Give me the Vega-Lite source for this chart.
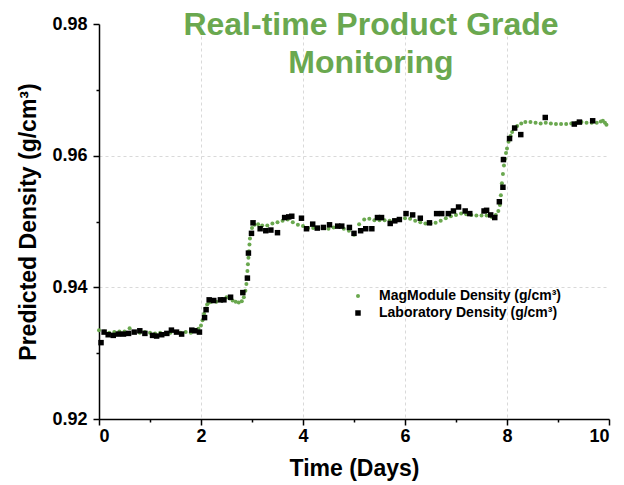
{
  "$schema": "https://vega.github.io/schema/vega-lite/v6.json",
  "width": 510,
  "height": 395,
  "autosize": "none",
  "padding": {"left": 99, "top": 24, "right": 15, "bottom": 66},
  "title": {
    "text": ["Real-time Product Grade", "Monitoring"],
    "font": "Liberation Sans",
    "fontSize": 32,
    "fontWeight": "bold",
    "color": "#6aa84f",
    "anchor": "middle",
    "frame": "group",
    "lineHeight": 38,
    "dx": 17,
    "dy": 68,
    "offset": 3
  },
  "data": {
    "values": [
      {"day": 0.0, "density": 0.9335, "series": "MagModule Density (g/cm³)"},
      {"day": 0.1, "density": 0.9333, "series": "MagModule Density (g/cm³)"},
      {"day": 0.2, "density": 0.9331, "series": "MagModule Density (g/cm³)"},
      {"day": 0.3, "density": 0.9332, "series": "MagModule Density (g/cm³)"},
      {"day": 0.4, "density": 0.9333, "series": "MagModule Density (g/cm³)"},
      {"day": 0.5, "density": 0.9333, "series": "MagModule Density (g/cm³)"},
      {"day": 0.6, "density": 0.9338, "series": "MagModule Density (g/cm³)"},
      {"day": 0.7, "density": 0.9332, "series": "MagModule Density (g/cm³)"},
      {"day": 0.8, "density": 0.9331, "series": "MagModule Density (g/cm³)"},
      {"day": 0.9, "density": 0.9332, "series": "MagModule Density (g/cm³)"},
      {"day": 1.0, "density": 0.9331, "series": "MagModule Density (g/cm³)"},
      {"day": 1.1, "density": 0.9330, "series": "MagModule Density (g/cm³)"},
      {"day": 1.2, "density": 0.9331, "series": "MagModule Density (g/cm³)"},
      {"day": 1.3, "density": 0.9329, "series": "MagModule Density (g/cm³)"},
      {"day": 1.4, "density": 0.9331, "series": "MagModule Density (g/cm³)"},
      {"day": 1.5, "density": 0.9332, "series": "MagModule Density (g/cm³)"},
      {"day": 1.6, "density": 0.9331, "series": "MagModule Density (g/cm³)"},
      {"day": 1.7, "density": 0.9332, "series": "MagModule Density (g/cm³)"},
      {"day": 1.8, "density": 0.9331, "series": "MagModule Density (g/cm³)"},
      {"day": 1.9, "density": 0.9334, "series": "MagModule Density (g/cm³)"},
      {"day": 1.95, "density": 0.9337, "series": "MagModule Density (g/cm³)"},
      {"day": 2.0, "density": 0.9342, "series": "MagModule Density (g/cm³)"},
      {"day": 2.03, "density": 0.9350, "series": "MagModule Density (g/cm³)"},
      {"day": 2.06, "density": 0.9360, "series": "MagModule Density (g/cm³)"},
      {"day": 2.09, "density": 0.9368, "series": "MagModule Density (g/cm³)"},
      {"day": 2.12, "density": 0.9374, "series": "MagModule Density (g/cm³)"},
      {"day": 2.16, "density": 0.9377, "series": "MagModule Density (g/cm³)"},
      {"day": 2.2, "density": 0.9378, "series": "MagModule Density (g/cm³)"},
      {"day": 2.3, "density": 0.9378, "series": "MagModule Density (g/cm³)"},
      {"day": 2.4, "density": 0.9380, "series": "MagModule Density (g/cm³)"},
      {"day": 2.5, "density": 0.9385, "series": "MagModule Density (g/cm³)"},
      {"day": 2.56, "density": 0.9383, "series": "MagModule Density (g/cm³)"},
      {"day": 2.62, "density": 0.9380, "series": "MagModule Density (g/cm³)"},
      {"day": 2.68, "density": 0.9378, "series": "MagModule Density (g/cm³)"},
      {"day": 2.74, "density": 0.9377, "series": "MagModule Density (g/cm³)"},
      {"day": 2.8, "density": 0.9379, "series": "MagModule Density (g/cm³)"},
      {"day": 2.84, "density": 0.9385, "series": "MagModule Density (g/cm³)"},
      {"day": 2.87, "density": 0.9395, "series": "MagModule Density (g/cm³)"},
      {"day": 2.89, "density": 0.9405, "series": "MagModule Density (g/cm³)"},
      {"day": 2.9, "density": 0.9415, "series": "MagModule Density (g/cm³)"},
      {"day": 2.91, "density": 0.9425, "series": "MagModule Density (g/cm³)"},
      {"day": 2.92, "density": 0.9435, "series": "MagModule Density (g/cm³)"},
      {"day": 2.93, "density": 0.9445, "series": "MagModule Density (g/cm³)"},
      {"day": 2.94, "density": 0.9455, "series": "MagModule Density (g/cm³)"},
      {"day": 2.95, "density": 0.9465, "series": "MagModule Density (g/cm³)"},
      {"day": 2.96, "density": 0.9474, "series": "MagModule Density (g/cm³)"},
      {"day": 2.98, "density": 0.9482, "series": "MagModule Density (g/cm³)"},
      {"day": 3.0, "density": 0.9490, "series": "MagModule Density (g/cm³)"},
      {"day": 3.05, "density": 0.9495, "series": "MagModule Density (g/cm³)"},
      {"day": 3.12, "density": 0.9496, "series": "MagModule Density (g/cm³)"},
      {"day": 3.2, "density": 0.9494, "series": "MagModule Density (g/cm³)"},
      {"day": 3.3, "density": 0.9494, "series": "MagModule Density (g/cm³)"},
      {"day": 3.4, "density": 0.9497, "series": "MagModule Density (g/cm³)"},
      {"day": 3.5, "density": 0.9499, "series": "MagModule Density (g/cm³)"},
      {"day": 3.6, "density": 0.9501, "series": "MagModule Density (g/cm³)"},
      {"day": 3.7, "density": 0.9503, "series": "MagModule Density (g/cm³)"},
      {"day": 3.8, "density": 0.9499, "series": "MagModule Density (g/cm³)"},
      {"day": 3.9, "density": 0.9495, "series": "MagModule Density (g/cm³)"},
      {"day": 4.0, "density": 0.9493, "series": "MagModule Density (g/cm³)"},
      {"day": 4.1, "density": 0.9490, "series": "MagModule Density (g/cm³)"},
      {"day": 4.2, "density": 0.9490, "series": "MagModule Density (g/cm³)"},
      {"day": 4.3, "density": 0.9490, "series": "MagModule Density (g/cm³)"},
      {"day": 4.4, "density": 0.9490, "series": "MagModule Density (g/cm³)"},
      {"day": 4.5, "density": 0.9489, "series": "MagModule Density (g/cm³)"},
      {"day": 4.6, "density": 0.9491, "series": "MagModule Density (g/cm³)"},
      {"day": 4.7, "density": 0.9492, "series": "MagModule Density (g/cm³)"},
      {"day": 4.8, "density": 0.9489, "series": "MagModule Density (g/cm³)"},
      {"day": 4.9, "density": 0.9486, "series": "MagModule Density (g/cm³)"},
      {"day": 5.0, "density": 0.9480, "series": "MagModule Density (g/cm³)"},
      {"day": 5.1, "density": 0.9496, "series": "MagModule Density (g/cm³)"},
      {"day": 5.2, "density": 0.9503, "series": "MagModule Density (g/cm³)"},
      {"day": 5.3, "density": 0.9504, "series": "MagModule Density (g/cm³)"},
      {"day": 5.4, "density": 0.9502, "series": "MagModule Density (g/cm³)"},
      {"day": 5.5, "density": 0.9502, "series": "MagModule Density (g/cm³)"},
      {"day": 5.6, "density": 0.9502, "series": "MagModule Density (g/cm³)"},
      {"day": 5.7, "density": 0.9501, "series": "MagModule Density (g/cm³)"},
      {"day": 5.8, "density": 0.9502, "series": "MagModule Density (g/cm³)"},
      {"day": 5.9, "density": 0.9503, "series": "MagModule Density (g/cm³)"},
      {"day": 6.0, "density": 0.9505, "series": "MagModule Density (g/cm³)"},
      {"day": 6.1, "density": 0.9504, "series": "MagModule Density (g/cm³)"},
      {"day": 6.2, "density": 0.9501, "series": "MagModule Density (g/cm³)"},
      {"day": 6.3, "density": 0.9499, "series": "MagModule Density (g/cm³)"},
      {"day": 6.4, "density": 0.9497, "series": "MagModule Density (g/cm³)"},
      {"day": 6.5, "density": 0.9497, "series": "MagModule Density (g/cm³)"},
      {"day": 6.6, "density": 0.9498, "series": "MagModule Density (g/cm³)"},
      {"day": 6.7, "density": 0.9501, "series": "MagModule Density (g/cm³)"},
      {"day": 6.8, "density": 0.9505, "series": "MagModule Density (g/cm³)"},
      {"day": 6.9, "density": 0.9508, "series": "MagModule Density (g/cm³)"},
      {"day": 7.0, "density": 0.9510, "series": "MagModule Density (g/cm³)"},
      {"day": 7.1, "density": 0.9512, "series": "MagModule Density (g/cm³)"},
      {"day": 7.2, "density": 0.9511, "series": "MagModule Density (g/cm³)"},
      {"day": 7.3, "density": 0.9510, "series": "MagModule Density (g/cm³)"},
      {"day": 7.4, "density": 0.9509, "series": "MagModule Density (g/cm³)"},
      {"day": 7.5, "density": 0.9509, "series": "MagModule Density (g/cm³)"},
      {"day": 7.6, "density": 0.9509, "series": "MagModule Density (g/cm³)"},
      {"day": 7.7, "density": 0.9507, "series": "MagModule Density (g/cm³)"},
      {"day": 7.78, "density": 0.9510, "series": "MagModule Density (g/cm³)"},
      {"day": 7.83, "density": 0.9516, "series": "MagModule Density (g/cm³)"},
      {"day": 7.86, "density": 0.9525, "series": "MagModule Density (g/cm³)"},
      {"day": 7.88, "density": 0.9540, "series": "MagModule Density (g/cm³)"},
      {"day": 7.9, "density": 0.9558, "series": "MagModule Density (g/cm³)"},
      {"day": 7.92, "density": 0.9572, "series": "MagModule Density (g/cm³)"},
      {"day": 7.94, "density": 0.9585, "series": "MagModule Density (g/cm³)"},
      {"day": 7.96, "density": 0.9595, "series": "MagModule Density (g/cm³)"},
      {"day": 7.98, "density": 0.9604, "series": "MagModule Density (g/cm³)"},
      {"day": 8.0, "density": 0.9611, "series": "MagModule Density (g/cm³)"},
      {"day": 8.03, "density": 0.9621, "series": "MagModule Density (g/cm³)"},
      {"day": 8.07, "density": 0.9630, "series": "MagModule Density (g/cm³)"},
      {"day": 8.1, "density": 0.9636, "series": "MagModule Density (g/cm³)"},
      {"day": 8.15, "density": 0.9641, "series": "MagModule Density (g/cm³)"},
      {"day": 8.2, "density": 0.9645, "series": "MagModule Density (g/cm³)"},
      {"day": 8.28, "density": 0.9649, "series": "MagModule Density (g/cm³)"},
      {"day": 8.36, "density": 0.9651, "series": "MagModule Density (g/cm³)"},
      {"day": 8.46, "density": 0.9651, "series": "MagModule Density (g/cm³)"},
      {"day": 8.56, "density": 0.9650, "series": "MagModule Density (g/cm³)"},
      {"day": 8.66, "density": 0.9649, "series": "MagModule Density (g/cm³)"},
      {"day": 8.76, "density": 0.9650, "series": "MagModule Density (g/cm³)"},
      {"day": 8.86, "density": 0.9649, "series": "MagModule Density (g/cm³)"},
      {"day": 8.96, "density": 0.9648, "series": "MagModule Density (g/cm³)"},
      {"day": 9.06, "density": 0.9648, "series": "MagModule Density (g/cm³)"},
      {"day": 9.16, "density": 0.9648, "series": "MagModule Density (g/cm³)"},
      {"day": 9.26, "density": 0.9649, "series": "MagModule Density (g/cm³)"},
      {"day": 9.36, "density": 0.9650, "series": "MagModule Density (g/cm³)"},
      {"day": 9.46, "density": 0.9651, "series": "MagModule Density (g/cm³)"},
      {"day": 9.56, "density": 0.9650, "series": "MagModule Density (g/cm³)"},
      {"day": 9.66, "density": 0.9650, "series": "MagModule Density (g/cm³)"},
      {"day": 9.76, "density": 0.9650, "series": "MagModule Density (g/cm³)"},
      {"day": 9.84, "density": 0.9652, "series": "MagModule Density (g/cm³)"},
      {"day": 9.88, "density": 0.9653, "series": "MagModule Density (g/cm³)"},
      {"day": 9.92, "density": 0.9650, "series": "MagModule Density (g/cm³)"},
      {"day": 9.95, "density": 0.9647, "series": "MagModule Density (g/cm³)"},
      {"day": 0.04, "density": 0.9316, "series": "Laboratory Density (g/cm³)"},
      {"day": 0.1, "density": 0.9332, "series": "Laboratory Density (g/cm³)"},
      {"day": 0.18, "density": 0.9328, "series": "Laboratory Density (g/cm³)"},
      {"day": 0.28, "density": 0.9327, "series": "Laboratory Density (g/cm³)"},
      {"day": 0.38, "density": 0.9329, "series": "Laboratory Density (g/cm³)"},
      {"day": 0.48, "density": 0.9329, "series": "Laboratory Density (g/cm³)"},
      {"day": 0.58, "density": 0.9330, "series": "Laboratory Density (g/cm³)"},
      {"day": 0.69, "density": 0.9332, "series": "Laboratory Density (g/cm³)"},
      {"day": 0.8, "density": 0.9334, "series": "Laboratory Density (g/cm³)"},
      {"day": 0.9, "density": 0.9330, "series": "Laboratory Density (g/cm³)"},
      {"day": 1.05, "density": 0.9327, "series": "Laboratory Density (g/cm³)"},
      {"day": 1.13, "density": 0.9326, "series": "Laboratory Density (g/cm³)"},
      {"day": 1.23, "density": 0.9328, "series": "Laboratory Density (g/cm³)"},
      {"day": 1.33, "density": 0.9330, "series": "Laboratory Density (g/cm³)"},
      {"day": 1.42, "density": 0.9335, "series": "Laboratory Density (g/cm³)"},
      {"day": 1.52, "density": 0.9332, "series": "Laboratory Density (g/cm³)"},
      {"day": 1.62, "density": 0.9329, "series": "Laboratory Density (g/cm³)"},
      {"day": 1.82, "density": 0.9335, "series": "Laboratory Density (g/cm³)"},
      {"day": 1.88, "density": 0.9334, "series": "Laboratory Density (g/cm³)"},
      {"day": 1.97, "density": 0.9332, "series": "Laboratory Density (g/cm³)"},
      {"day": 2.07, "density": 0.9354, "series": "Laboratory Density (g/cm³)"},
      {"day": 2.1, "density": 0.9366, "series": "Laboratory Density (g/cm³)"},
      {"day": 2.16, "density": 0.9381, "series": "Laboratory Density (g/cm³)"},
      {"day": 2.25, "density": 0.9380, "series": "Laboratory Density (g/cm³)"},
      {"day": 2.38, "density": 0.9381, "series": "Laboratory Density (g/cm³)"},
      {"day": 2.45, "density": 0.9381, "series": "Laboratory Density (g/cm³)"},
      {"day": 2.58, "density": 0.9385, "series": "Laboratory Density (g/cm³)"},
      {"day": 2.82, "density": 0.9392, "series": "Laboratory Density (g/cm³)"},
      {"day": 2.91, "density": 0.9414, "series": "Laboratory Density (g/cm³)"},
      {"day": 2.93, "density": 0.9452, "series": "Laboratory Density (g/cm³)"},
      {"day": 2.99, "density": 0.9482, "series": "Laboratory Density (g/cm³)"},
      {"day": 3.02, "density": 0.9498, "series": "Laboratory Density (g/cm³)"},
      {"day": 3.16, "density": 0.9489, "series": "Laboratory Density (g/cm³)"},
      {"day": 3.27, "density": 0.9486, "series": "Laboratory Density (g/cm³)"},
      {"day": 3.37, "density": 0.9487, "series": "Laboratory Density (g/cm³)"},
      {"day": 3.5, "density": 0.9483, "series": "Laboratory Density (g/cm³)"},
      {"day": 3.64, "density": 0.9506, "series": "Laboratory Density (g/cm³)"},
      {"day": 3.72, "density": 0.9507, "series": "Laboratory Density (g/cm³)"},
      {"day": 3.78, "density": 0.9508, "series": "Laboratory Density (g/cm³)"},
      {"day": 3.97, "density": 0.9505, "series": "Laboratory Density (g/cm³)"},
      {"day": 4.07, "density": 0.9489, "series": "Laboratory Density (g/cm³)"},
      {"day": 4.19, "density": 0.9496, "series": "Laboratory Density (g/cm³)"},
      {"day": 4.28, "density": 0.9490, "series": "Laboratory Density (g/cm³)"},
      {"day": 4.4, "density": 0.9491, "series": "Laboratory Density (g/cm³)"},
      {"day": 4.52, "density": 0.9495, "series": "Laboratory Density (g/cm³)"},
      {"day": 4.68, "density": 0.9493, "series": "Laboratory Density (g/cm³)"},
      {"day": 4.76, "density": 0.9493, "series": "Laboratory Density (g/cm³)"},
      {"day": 4.91, "density": 0.9491, "series": "Laboratory Density (g/cm³)"},
      {"day": 5.0, "density": 0.9482, "series": "Laboratory Density (g/cm³)"},
      {"day": 5.13, "density": 0.9486, "series": "Laboratory Density (g/cm³)"},
      {"day": 5.23, "density": 0.9489, "series": "Laboratory Density (g/cm³)"},
      {"day": 5.35, "density": 0.9489, "series": "Laboratory Density (g/cm³)"},
      {"day": 5.46, "density": 0.9506, "series": "Laboratory Density (g/cm³)"},
      {"day": 5.54, "density": 0.9506, "series": "Laboratory Density (g/cm³)"},
      {"day": 5.71, "density": 0.9497, "series": "Laboratory Density (g/cm³)"},
      {"day": 5.8, "density": 0.9501, "series": "Laboratory Density (g/cm³)"},
      {"day": 5.89, "density": 0.9503, "series": "Laboratory Density (g/cm³)"},
      {"day": 6.02, "density": 0.9512, "series": "Laboratory Density (g/cm³)"},
      {"day": 6.15, "density": 0.9510, "series": "Laboratory Density (g/cm³)"},
      {"day": 6.3, "density": 0.9505, "series": "Laboratory Density (g/cm³)"},
      {"day": 6.48, "density": 0.9498, "series": "Laboratory Density (g/cm³)"},
      {"day": 6.62, "density": 0.9512, "series": "Laboratory Density (g/cm³)"},
      {"day": 6.72, "density": 0.9512, "series": "Laboratory Density (g/cm³)"},
      {"day": 6.85, "density": 0.9512, "series": "Laboratory Density (g/cm³)"},
      {"day": 6.95, "density": 0.9516, "series": "Laboratory Density (g/cm³)"},
      {"day": 7.05, "density": 0.9522, "series": "Laboratory Density (g/cm³)"},
      {"day": 7.18, "density": 0.9516, "series": "Laboratory Density (g/cm³)"},
      {"day": 7.27, "density": 0.9512, "series": "Laboratory Density (g/cm³)"},
      {"day": 7.55, "density": 0.9516, "series": "Laboratory Density (g/cm³)"},
      {"day": 7.6, "density": 0.9517, "series": "Laboratory Density (g/cm³)"},
      {"day": 7.68, "density": 0.9510, "series": "Laboratory Density (g/cm³)"},
      {"day": 7.76, "density": 0.9506, "series": "Laboratory Density (g/cm³)"},
      {"day": 7.85, "density": 0.9530, "series": "Laboratory Density (g/cm³)"},
      {"day": 7.92, "density": 0.9552, "series": "Laboratory Density (g/cm³)"},
      {"day": 7.93, "density": 0.9594, "series": "Laboratory Density (g/cm³)"},
      {"day": 8.05, "density": 0.9626, "series": "Laboratory Density (g/cm³)"},
      {"day": 8.15, "density": 0.9642, "series": "Laboratory Density (g/cm³)"},
      {"day": 8.27, "density": 0.9632, "series": "Laboratory Density (g/cm³)"},
      {"day": 8.75, "density": 0.9658, "series": "Laboratory Density (g/cm³)"},
      {"day": 9.32, "density": 0.9648, "series": "Laboratory Density (g/cm³)"},
      {"day": 9.42, "density": 0.9651, "series": "Laboratory Density (g/cm³)"},
      {"day": 9.68, "density": 0.9653, "series": "Laboratory Density (g/cm³)"}
    ]
  },
  "mark": {"type": "point", "filled": true, "opacity": 1},
  "encoding": {
    "x": {
      "field": "day",
      "type": "quantitative",
      "scale": {"domain": [0, 10], "nice": false},
      "axis": {
        "title": "Time (Days)",
        "values": [0, 1, 2, 3, 4, 5, 6, 7, 8, 9, 10],
        "labelExpr": "datum.value % 2 == 0 ? datum.label : ''",
        "tickSize": {"condition": {"test": "datum.value % 2 == 1", "value": 3}, "value": 6},
        "gridOpacity": {"condition": {"test": "datum.value % 2 == 1 || datum.value == 0 || datum.value == 10", "value": 0}, "value": 1},
        "labelFontSize": 18,
        "labelPadding": 2,
        "titleFontSize": 23,
        "titlePadding": 12
      }
    },
    "y": {
      "field": "density",
      "type": "quantitative",
      "scale": {"domain": [0.92, 0.98], "nice": false, "zero": false},
      "axis": {
        "title": "Predicted Density (g/cm³)",
        "values": [0.92, 0.93, 0.94, 0.95, 0.96, 0.97, 0.98],
        "format": ".2f",
        "labelExpr": "round(datum.value * 100) % 2 == 0 ? datum.label : ''",
        "tickSize": {"condition": {"test": "round(datum.value * 100) % 2 == 1", "value": 3}, "value": 6},
        "gridOpacity": {"condition": {"test": "round(datum.value * 100) % 2 == 1 || round(datum.value * 100) == 92 || round(datum.value * 100) == 98", "value": 0}, "value": 1},
        "labelFontSize": 18,
        "labelPadding": 6,
        "titleFontSize": 23,
        "titlePadding": 11
      }
    },
    "color": {
      "field": "series",
      "type": "nominal",
      "scale": {"domain": ["MagModule Density (g/cm³)", "Laboratory Density (g/cm³)"], "range": ["#6aa84f", "#000000"]},
      "legend": {
        "title": null,
        "orient": "none",
        "legendX": 252,
        "legendY": 265,
        "labelFont": "Liberation Sans",
        "labelFontSize": 14,
        "labelFontWeight": "bold",
        "labelColor": "#000000",
        "labelLimit": 0,
        "labelOffset": 14,
        "rowPadding": 3,
        "padding": 0
      }
    },
    "shape": {
      "field": "series",
      "type": "nominal",
      "scale": {"domain": ["MagModule Density (g/cm³)", "Laboratory Density (g/cm³)"], "range": ["circle", "square"]}
    },
    "size": {
      "field": "series",
      "type": "nominal",
      "scale": {"domain": ["MagModule Density (g/cm³)", "Laboratory Density (g/cm³)"], "range": [16, 30]}
    }
  },
  "config": {
    "view": {"stroke": null},
    "font": "Liberation Sans",
    "axis": {
      "domainColor": "#000000",
      "domainWidth": 1.5,
      "tickColor": "#000000",
      "tickWidth": 1.5,
      "labelColor": "#000000",
      "labelFont": "Liberation Sans",
      "labelFontWeight": "bold",
      "titleColor": "#000000",
      "titleFont": "Liberation Sans",
      "titleFontWeight": "bold",
      "gridColor": "#d9d9d9",
      "gridDash": [3, 3],
      "gridWidth": 1
    }
  }
}
